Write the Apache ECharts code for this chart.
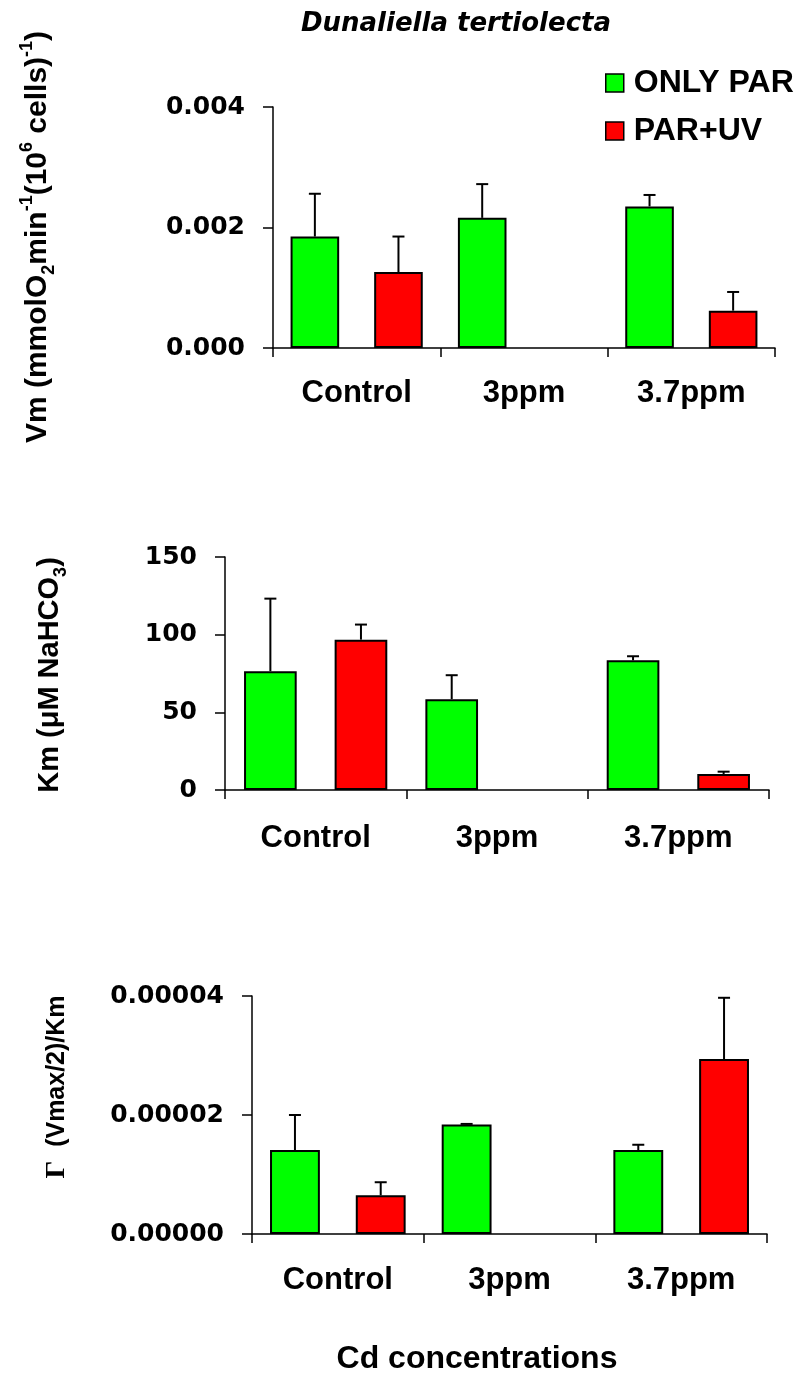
<!DOCTYPE html>
<html>
<head>
<meta charset="utf-8">
<title>Dunaliella tertiolecta</title>
<script src="https://cdn.jsdelivr.net/npm/echarts@6/dist/echarts.min.js"></script>
<style>
  html, body { margin: 0; padding: 0; background: #fff; }
  #chart { width: 800px; height: 1374px; }
</style>
</head>
<body>
<div id="chart"></div>
<script>
// Cd treatments on the category axis
const categories = ['Control', '3ppm', '3.7ppm'];
const seriesNames = ['ONLY PAR', 'PAR+UV'];

// Vm (mmol O2 min-1 (10^6 cells)-1): means and upper SD
const vmOnlyPar = [0.00185, 0.00216, 0.00235];
const vmOnlyParSd = [0.00071, 0.00056, 0.00019];
const vmParUv = [0.00126, null, 0.00062];
const vmParUvSd = [0.00059, null, 0.00031];

// Km (uM NaHCO3)
const kmOnlyPar = [76.5, 58.5, 83.5];
const kmOnlyParSd = [46.7, 15.4, 2.6];
const kmParUv = [96.8, null, 10.3];
const kmParUvSd = [9.7, null, 1.5];

// Gamma ((Vmax/2)/Km)
const gammaOnlyPar = [0.0000141, 0.0000184, 0.0000141];
const gammaOnlyParSd = [0.0000059, 0.0000001, 0.0000009];
const gammaParUv = [0.0000065, null, 0.0000294];
const gammaParUvSd = [0.0000022, null, 0.0000103];

// y-axis ranges and tick steps per panel
const vmTicks = { min: 0, max: 0.004, interval: 0.002, digits: 3 };
const kmTicks = { min: 0, max: 150, interval: 50, digits: 0 };
const gammaTicks = { min: 0, max: 0.00004, interval: 0.00002, digits: 5 };

const GREEN = '#00ff00';
const RED = '#ff0000';
const CAT_GAP = 0.21;
const BAR_GAP = 0.72;
const SANS = 'Liberation Sans';
const TICK_FONT = 'DejaVu Sans';

const grids = [
  { left: 273, top: 107, width: 502, height: 241 },
  { left: 225, top: 557, width: 544, height: 233 },
  { left: 252, top: 996, width: 515, height: 238 }
];
const labelMargins = [30, 33, 31];
const ticksByPanel = [vmTicks, kmTicks, gammaTicks];

const panels = [
  [[vmOnlyPar, vmOnlyParSd], [vmParUv, vmParUvSd]],
  [[kmOnlyPar, kmOnlyParSd], [kmParUv, kmParUvSd]],
  [[gammaOnlyPar, gammaOnlyParSd], [gammaParUv, gammaParUvSd]]
];

// Upper error bar drawn over the bar of slot `slot` within each category
function errorBar(slot) {
  return function (params, api) {
    const cat = api.value(0);
    const val = api.value(1);
    const err = api.value(2);
    const band = api.size([1, 0])[0];
    const usable = band * (1 - CAT_GAP);
    const bw = usable / (2 + BAR_GAP);
    const offset = -usable / 2 + bw / 2 + slot * bw * (1 + BAR_GAP);
    const base = api.coord([cat, val]);
    const top = api.coord([cat, val + err]);
    const x = base[0] + offset;
    const st = { stroke: '#000', lineWidth: 2 };
    return {
      type: 'group',
      children: [
        { type: 'line', shape: { x1: x, y1: base[1], x2: x, y2: top[1] }, style: st },
        { type: 'line', shape: { x1: x - 6, y1: top[1], x2: x + 6, y2: top[1] }, style: st }
      ]
    };
  };
}

const xAxes = grids.map((g, i) => ({
  type: 'category',
  gridIndex: i,
  data: categories,
  boundaryGap: true,
  axisLine: { lineStyle: { color: '#000', width: 1.5 } },
  axisTick: { show: true, length: 9, interval: 0, alignWithLabel: false, lineStyle: { color: '#000', width: 1.5 } },
  axisLabel: {
    margin: labelMargins[i], interval: 0,
    fontFamily: SANS, fontWeight: 'bold', fontSize: 31, color: '#000'
  },
  splitLine: { show: false }
}));

const yAxes = ticksByPanel.map((t, i) => ({
  type: 'value',
  gridIndex: i,
  min: t.min, max: t.max, interval: t.interval,
  axisLine: { show: true, lineStyle: { color: '#000', width: 1.5 } },
  axisTick: { show: true, length: 10, lineStyle: { color: '#000', width: 1.5 } },
  axisLabel: {
    margin: 28,
    fontFamily: TICK_FONT, fontWeight: 'bold', fontSize: 25, color: '#000',
    formatter: v => v.toFixed(t.digits)
  },
  splitLine: { show: false }
}));

const series = [];
panels.forEach((pairs, p) => {
  pairs.forEach(([vals, sds], slot) => {
    series.push({
      name: seriesNames[slot],
      type: 'bar',
      xAxisIndex: p, yAxisIndex: p,
      barCategoryGap: (CAT_GAP * 100) + '%',
      barGap: (BAR_GAP * 100) + '%',
      itemStyle: { color: slot === 0 ? GREEN : RED, borderColor: '#000', borderWidth: 2 },
      data: vals.map(v => (v == null ? '-' : v))
    });
  });
  pairs.forEach(([vals, sds], slot) => {
    series.push({
      name: seriesNames[slot] + ' SD',
      type: 'custom',
      xAxisIndex: p, yAxisIndex: p,
      renderItem: errorBar(slot),
      encode: { x: 0, y: 1 },
      z: 3,
      data: vals.map((v, i) => (v == null ? null : [i, v, sds[i]])).filter(Boolean)
    });
  });
});

const baseTxt = (size) => ({ fontFamily: SANS, fontWeight: 'bold', fontSize: size, fill: '#000', lineHeight: 40 });
const smallTxt = (size, va) => ({ fontFamily: SANS, fontWeight: 'bold', fontSize: size, fill: '#000', lineHeight: 20, verticalAlign: va });

const option = {
  animation: false,
  backgroundColor: '#fff',
  grid: grids.map(g => Object.assign({ containLabel: false }, g)),
  xAxis: xAxes,
  yAxis: yAxes,
  legend: {
    data: seriesNames,
    orient: 'vertical',
    left: 605, top: 67,
    padding: 0,
    itemWidth: 18, itemHeight: 18, itemGap: 16,
    icon: 'rect',
    itemStyle: { borderColor: '#000', borderWidth: 1.5 },
    textStyle: { fontFamily: SANS, fontWeight: 'bold', fontSize: 32, color: '#000', padding: [0, 0, 0, 5] }
  },
  graphic: [
    {
      type: 'text', x: 456, y: 11,
      style: {
        text: 'Dunaliella tertiolecta', align: 'center', verticalAlign: 'top',
        fontFamily: TICK_FONT, fontStyle: 'italic', fontWeight: 'bold', fontSize: 26, fill: '#000'
      }
    },
    {
      type: 'text', x: 477, y: 1343,
      style: {
        text: 'Cd concentrations', align: 'center', verticalAlign: 'top',
        fontFamily: SANS, fontWeight: 'bold', fontSize: 32, fill: '#000'
      }
    },
    {
      type: 'text', x: 38, y: 237, rotation: Math.PI / 2,
      style: {
        text: '{b|Vm (mmolO}{sub|2}{b|min}{sup|-1}{b|(10}{sup|6}{b| cells)}{sup|-1}{b|)}',
        align: 'center', verticalAlign: 'middle',
        rich: { b: baseTxt(30), sub: smallTxt(18, 'bottom'), sup: smallTxt(18, 'top') }
      }
    },
    {
      type: 'text', x: 50, y: 675, rotation: Math.PI / 2,
      style: {
        text: '{b|Km (\u03BCM NaHCO}{sub|3}{b|)}',
        align: 'center', verticalAlign: 'middle',
        rich: { b: baseTxt(29), sub: smallTxt(18, 'bottom') }
      }
    },
    {
      type: 'text', x: 57, y: 1087, rotation: Math.PI / 2,
      style: {
        text: '{g|\u0393}{b|  (Vmax/2)/Km}',
        align: 'center', verticalAlign: 'middle',
        rich: {
          b: baseTxt(25),
          g: { fontFamily: 'Liberation Serif', fontWeight: 'bold', fontSize: 28, fill: '#000', lineHeight: 40 }
        }
      }
    }
  ],
  series: series
};

const chart = echarts.init(document.getElementById('chart'), null, { renderer: 'canvas' });
chart.setOption(option);
</script>
</body>
</html>
